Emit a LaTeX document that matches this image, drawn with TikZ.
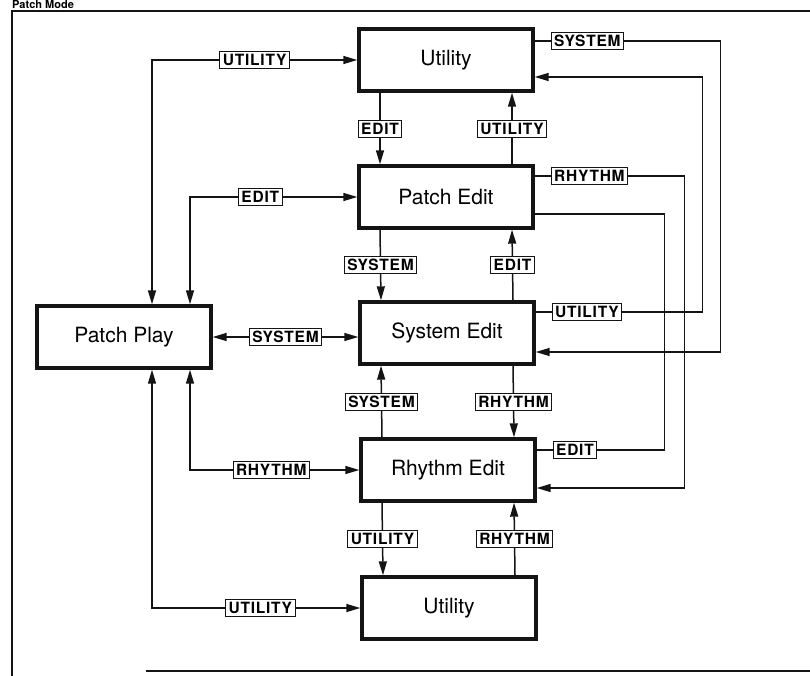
\documentclass[tikz,border=0pt]{standalone}
\usepackage{fontspec}
\setmainfont{TeX Gyre Heros}
\newfontfamily\tagfont[LetterSpace=5]{TeX Gyre Heros}
\usetikzlibrary{positioning, arrows.meta}
\definecolor{tinta}{HTML}{141414}
\tikzset{
	modebox/.style={draw=tinta, line width=3.4pt, minimum width=174pt, minimum height=62pt,
	                font=\fontsize{21}{24}\selectfont},
	tag/.style={draw=tinta, line width=0.9pt, fill=white, inner xsep=3pt, inner ysep=0pt,
	            minimum height=17pt, font=\tagfont\bfseries\fontsize{15.5}{17}\selectfont},
	conn/.style={draw=tinta, line width=1.5pt, -{Triangle[length=14pt,width=8pt]}},
	both/.style={conn, {Triangle[length=14pt,width=8pt]}-{Triangle[length=14pt,width=8pt]}},
}
\begin{document}
\begin{tikzpicture}[x=1pt, y=-1pt]
	\useasboundingbox (0,0) rectangle (810,676);
	\node[anchor=base west, inner sep=0pt, font=\bfseries\fontsize{11}{11}\selectfont] (titulo) at (12,8.5) {Patch Mode};
	\draw[tinta, line width=1.2pt] (810,11) -- (12,11) -- (12,676);
	\draw[tinta, line width=1.2pt] (146,671) -- (810,671);
	\foreach \n/\x/\y/\t in {utiltop/446/60/Utility, patchedit/446/197/Patch Edit, sysedit/447/333/System Edit,
	                         rhythmedit/448/470/Rhythm Edit, utilbot/449/608/Utility, patchplay/124/337/Patch Play} {
		\node[modebox] (\n) at (\x,\y) {\t};
	}
	\foreach \a/\b/\s/\t in {utiltop/patchedit/-66/EDIT, patchedit/sysedit/-66/SYSTEM,
	                         sysedit/rhythmedit/66/RHYTHM, rhythmedit/utilbot/-66/UTILITY} {
		\draw[conn] ([xshift=\s pt]\a.south) -- node[tag] {\t} ([xshift=\s pt]\b.north);
	}
	\foreach \a/\b/\s/\t in {patchedit/utiltop/66/UTILITY, sysedit/patchedit/66/EDIT,
	                         rhythmedit/sysedit/-66/SYSTEM, utilbot/rhythmedit/66/RHYTHM} {
		\draw[conn] ([xshift=\s pt]\a.north) -- node[tag] {\t} ([xshift=\s pt]\b.south);
	}
	\coordinate (rielA) at (152,0);
	\coordinate (rielB) at (190,0);
	\draw[both] (rielA |- patchplay.north) |- node[tag, pos=.75] {UTILITY} (utiltop.west);
	\draw[both] (rielB |- patchplay.north) |- node[tag, pos=.71] {EDIT} (patchedit.west);
	\draw[both] (patchplay.east) -- node[tag] {SYSTEM} (patchplay.east -| sysedit.west);
	\draw[both] (rielB |- patchplay.south) |- node[tag, pos=.74] {RHYTHM} (rhythmedit.west);
	\draw[both] (rielA |- patchplay.south) |- node[tag, pos=.76] {UTILITY} (utilbot.west);
	\foreach \a/\b/\o/\i/\r/\t in {utiltop/sysedit/19/-19/185/SYSTEM, sysedit/utiltop/21/-17/168/UTILITY,
	                               patchedit/rhythmedit/21/-18/148/RHYTHM} {
		\draw[conn] ([yshift=\o pt]\a.east) -- ++(16,0) node[tag, anchor=west] {\t}
			-| ([xshift=\r pt, yshift=\i pt]\b.east) -- ([yshift=\i pt]\b.east);
	}
	\draw[conn, -] ([yshift=20pt]rhythmedit.east) -- ++(16,0) node[tag, anchor=west] {EDIT}
		-| ([xshift=130pt, yshift=-17pt]patchedit.east) -- ([yshift=-17pt]patchedit.east);
\end{tikzpicture}
\end{document}
